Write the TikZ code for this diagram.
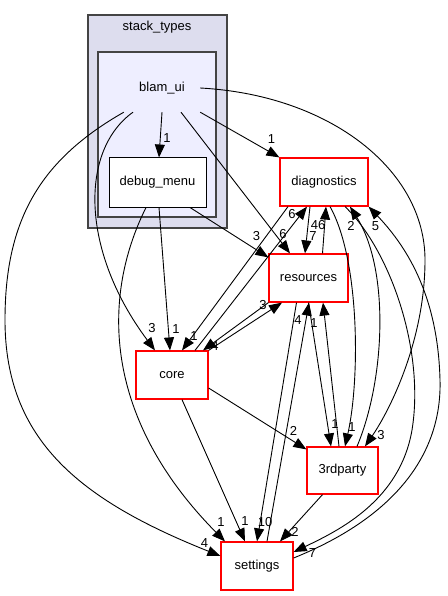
\documentclass[tikz,border=0pt]{standalone}
\usepackage{fontspec}
\setmainfont{Liberation Sans}
\usetikzlibrary{arrows.meta}
\definecolor{outerfill}{HTML}{DDDDEE}
\definecolor{innerfill}{HTML}{EEEEFF}
\definecolor{clusterline}{HTML}{444444}

\begin{document}
\begin{tikzpicture}[x=1pt, y=-1pt,
  every node/.style={font=\fontsize{13}{15}\selectfont},
  dir/.style={draw=red, line width=1.2pt, fill=white, inner sep=0pt, minimum height=48pt},
  clust/.style={draw=clusterline, line width=1.6pt, inner sep=0pt},
  dep/.style={line width=0.9pt, -{Triangle[length=13pt,width=10pt]}},
  lbl/.style={inner sep=0pt}]
          \useasboundingbox (0,0) rectangle (447,596);
          \node[clust, fill=outerfill, minimum width=139pt, minimum height=213pt] (stack) at (157.5,121.5) {};
          \node (stacklbl) at (157,27) {stack\_types};
          \node[clust, fill=innerfill, minimum width=118pt, minimum height=165pt] (blambox) at (157,134.5) {};
          \node[inner sep=0pt, minimum width=76pt, minimum height=48pt] (blam) at (162,88) {blam\_ui};
          \node[draw=black, line width=1pt, fill=white, inner sep=0pt, minimum width=97pt, minimum height=49pt] (debug) at (157.5,182.5) {debug\_menu};
          \node[dir, minimum width=88pt] (diag)  at (324,182)   {diagnostics};
          \node[dir, minimum width=79pt] (res)   at (308.5,278) {resources};
          \node[dir, minimum width=72pt] (core)  at (172,375)   {core};
          \node[dir, minimum width=71pt, minimum height=47pt] (third) at (342.5,470.5) {3rdparty};
          \node[dir, minimum width=72pt] (sett)  at (257,566)   {settings};
          \path[dep]
            (blam.south) edge node[lbl, at end, xshift=8pt, yshift=19pt] {1} ([xshift=1.5pt]debug.north)
            (blam.south east) edge node[lbl, at end, xshift=-8pt, yshift=18pt] {1} (diag.north west)
            ([xshift=19pt]blam.south) edge node[lbl, at end, xshift=-7pt, yshift=19pt] {6} ([xshift=-18.5pt]res.north)
            ([xshift=32.5pt]debug.south) edge node[lbl, at end, xshift=-12pt, yshift=21pt] {3} ([yshift=-4pt]res.north west)
            ([xshift=1.5pt]debug.south) edge node[lbl, at end, xshift=6pt, yshift=21pt] {1} ([xshift=-2pt]core.north)
            ([xshift=23pt]core.north) edge node[lbl, at end, xshift=-15pt, yshift=-7pt] {6} ([xshift=-17pt]diag.south)
            (core.north east) edge node[lbl, at end, xshift=-19pt, yshift=-2pt] {3} ([xshift=-26.5pt]res.south)
            ([yshift=-13pt]core.east) edge node[lbl, at end, xshift=-13pt, yshift=18pt] {2} ([yshift=-3pt]third.north west)
            ([xshift=10pt]core.south) edge node[lbl, at end, yshift=20pt] {1} ([xshift=-12pt]sett.north)
            ([xshift=-36pt]diag.south) edge node[lbl, at end, xshift=12pt, yshift=14pt] {1} ([xshift=10pt]core.north)
            ([xshift=-14pt]diag.south) edge node[lbl, at end, xshift=8pt, yshift=17pt] {7} ([xshift=-3.5pt]res.north)
            ([xshift=14pt]res.north) edge node[lbl, at end, xshift=-8pt, yshift=-18pt] {46} ([xshift=2pt]diag.south)
            (res.south west) edge node[lbl, at end, xshift=12pt, yshift=4pt] {4} ([xshift=31pt]core.north)
            (res.south) edge node[lbl, at end, xshift=4pt, yshift=22pt] {1} ([xshift=-11.5pt]third.north)
            ([xshift=-12pt]res.south) edge node[lbl, at end, xshift=8pt, yshift=19pt] {10} (sett.north)
            ([xshift=-3.5pt]third.north) edge node[lbl, at end, xshift=-9pt, yshift=-20pt] {1} ([xshift=14.5pt]res.south)
            ([xshift=-20pt]third.south) edge node[lbl, at end, xshift=15pt, yshift=9pt] {2} ([xshift=23pt]sett.north)
            ([xshift=10pt]sett.north) edge node[lbl, at end, xshift=-11pt, yshift=-17pt] {4} ([xshift=0.5pt]res.south)
            ;
          % curved dependencies
          \draw[dep] ([xshift=-29pt]blam.south) .. controls (80,150) and (80,250) .. ([xshift=-17pt]core.north) node[lbl, xshift=-3pt, yshift=22pt] {3};
          \draw[dep] (blam.east) .. controls (330,95) and (425,170) .. (425,260) .. controls (425,340) and (390,410) .. ([xshift=22.5pt]third.north) node[lbl, xshift=16pt, yshift=11pt] {3};
          \draw[dep] (blam.south west) .. controls (40,160) and (5,220) .. (5,320) .. controls (5,440) and (80,500) .. ([yshift=10pt]sett.west) node[lbl, xshift=-16pt, yshift=13pt] {4};
          \draw[dep] ([xshift=-11.5pt]debug.south) .. controls (100,300) and (105,420) .. ([xshift=-32pt]sett.north) node[lbl, xshift=-4pt, yshift=19pt] {1};
          \draw[dep] ([xshift=6pt]diag.south) .. controls (360,260) and (360,380) .. ([xshift=2.5pt]third.north) node[lbl, xshift=7pt, yshift=19pt] {1};
          \draw[dep] ([xshift=21pt]diag.south) .. controls (390,250) and (425,350) .. (412,430) .. controls (400,500) and (340,530) .. ([yshift=14pt]sett.east) node[lbl, xshift=19pt, yshift=-1pt] {7};
          \draw[dep] ([xshift=14.5pt]third.north) .. controls (385,380) and (390,270) .. ([xshift=26pt]diag.south) node[lbl, xshift=1pt, yshift=-19pt] {2};
          \draw[dep] ([yshift=8pt]sett.east) .. controls (400,515) and (442,450) .. (440,380) .. controls (438,300) and (410,250) .. (diag.south east) node[lbl, xshift=7pt, yshift=-19pt] {5};
        \end{tikzpicture}
\end{document}
